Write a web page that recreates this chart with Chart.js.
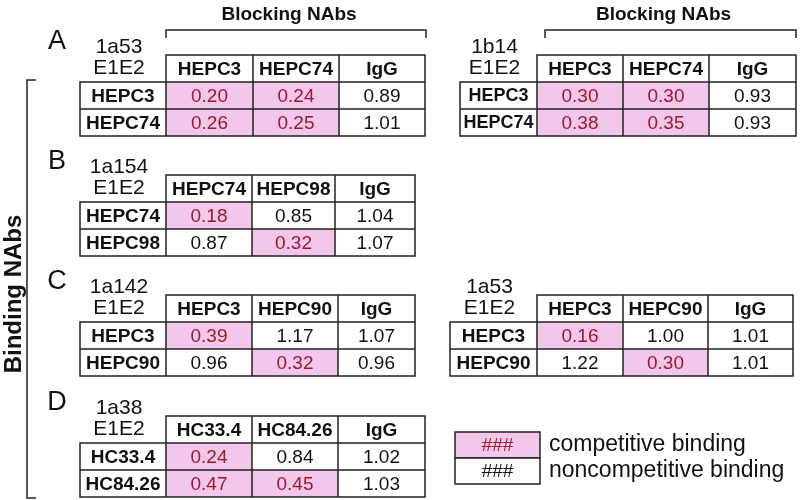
<!DOCTYPE html>
<html>
<head>
<meta charset="utf-8">
<script src="https://cdn.jsdelivr.net/npm/chart.js@4.4.0/dist/chart.umd.min.js"></script>
<style>
  html, body { margin: 0; padding: 0; background: #fff; }
  #wrap { width: 802px; height: 500px; }
</style>
</head>
<body>
<div id="wrap"><canvas id="grafico" width="802" height="500"></canvas></div>
<script>
// dados das tabelas
const colsA = ["HEPC3", "HEPC74", "IgG"];
const rowsA = ["HEPC3", "HEPC74"];
const valsA = [[0.20, 0.24, 0.89], [0.26, 0.25, 1.01]];

const cols1b14 = ["HEPC3", "HEPC74", "IgG"];
const rows1b14 = ["HEPC3", "HEPC74"];
const vals1b14 = [[0.30, 0.30, 0.93], [0.38, 0.35, 0.93]];

const colsB = ["HEPC74", "HEPC98", "IgG"];
const rowsB = ["HEPC74", "HEPC98"];
const valsB = [[0.18, 0.85, 1.04], [0.87, 0.32, 1.07]];

const colsC = ["HEPC3", "HEPC90", "IgG"];
const rowsC = ["HEPC3", "HEPC90"];
const valsC = [[0.39, 1.17, 1.07], [0.96, 0.32, 0.96]];

const colsC2 = ["HEPC3", "HEPC90", "IgG"];
const rowsC2 = ["HEPC3", "HEPC90"];
const valsC2 = [[0.16, 1.00, 1.01], [1.22, 0.30, 1.01]];

const colsD = ["HC33.4", "HC84.26", "IgG"];
const rowsD = ["HC33.4", "HC84.26"];
const valsD = [[0.24, 0.84, 1.02], [0.47, 0.45, 1.03]];

// competitive binding flags (rosa)
const compA = [[1, 1, 0], [1, 1, 0]];
const comp1b14 = [[1, 1, 0], [1, 1, 0]];
const compB = [[1, 0, 0], [0, 1, 0]];
const compC = [[1, 0, 0], [0, 1, 0]];
const compC2 = [[1, 0, 0], [0, 1, 0]];
const compD = [[1, 0, 0], [1, 1, 0]];

const legendLabels = ["competitive binding", "noncompetitive binding"];

// layout das tabelas
const tabelas = [
  { letra: "A", cepa: "1a53", cols: colsA, rows: rowsA, vals: valsA, comp: compA,
    rowLeft: 80, edges: [166, 253, 339, 425], top: 55, rowFont: 19 },
  { letra: "", cepa: "1b14", cols: cols1b14, rows: rows1b14, vals: vals1b14, comp: comp1b14,
    rowLeft: 460, edges: [537, 623, 709, 796], top: 55, rowFont: 18 },
  { letra: "B", cepa: "1a154", cols: colsB, rows: rowsB, vals: valsB, comp: compB,
    rowLeft: 80, edges: [166, 252, 335, 415], top: 175, rowFont: 19 },
  { letra: "C", cepa: "1a142", cols: colsC, rows: rowsC, vals: valsC, comp: compC,
    rowLeft: 80, edges: [166, 252, 338, 415], top: 295, rowFont: 19 },
  { letra: "", cepa: "1a53", cols: colsC2, rows: rowsC2, vals: valsC2, comp: compC2,
    rowLeft: 450, edges: [537, 623, 708, 793], top: 295, rowFont: 19 },
  { letra: "D", cepa: "1a38", cols: colsD, rows: rowsD, vals: valsD, comp: compD,
    rowLeft: 80, edges: [166, 252, 338, 425], top: 416, rowFont: 19 },
];
const ROW_H = 27;
const ROSA = "#f3c6ec";
const VERMELHO = "#9a1a2a";
const LINHA = "#222";
const FONTE = "'Liberation Sans', Arial, sans-serif";

const desenhaTabelas = {
  id: "tabelas",
  afterDraw(chart) {
    const ctx = chart.ctx;
    const sx = chart.scales.x;
    const sy = chart.scales.y;
    const px = (v) => sx.getPixelForValue(v);
    const py = (v) => sy.getPixelForValue(v);

    ctx.save();
    ctx.textAlign = "center";
    ctx.textBaseline = "middle";

    tabelas.forEach((t) => {
      const e = t.edges;
      const labelX = (t.rowLeft + e[0]) / 2 - 4;

      // letra do painel, cepa e E1E2
      if (t.letra) {
        ctx.fillStyle = "#111";
        ctx.font = "27px " + FONTE;
        ctx.fillText(t.letra, px(57), py(t.top - 13));
      }
      ctx.fillStyle = "#111";
      ctx.font = "21px " + FONTE;
      ctx.fillText(t.cepa, px(labelX), py(t.top - 8));
      ctx.fillText("E1E2", px(labelX), py(t.top + ROW_H / 2));

      // fundo das células
      t.vals.forEach((linha, i) => {
        linha.forEach((v, j) => {
          const y0 = t.top + ROW_H * (i + 1);
          ctx.fillStyle = t.comp[i][j] ? ROSA : "#fff";
          ctx.fillRect(px(e[j]), py(y0), px(e[j + 1]) - px(e[j]), py(y0 + ROW_H) - py(y0));
        });
      });

      // linhas da grade
      ctx.strokeStyle = LINHA;
      ctx.lineWidth = 1.5;
      ctx.beginPath();
      // cabeçalho
      ctx.rect(px(e[0]), py(t.top), px(e[3]) - px(e[0]), py(t.top + ROW_H) - py(t.top));
      // corpo
      const bTop = t.top + ROW_H;
      const bBot = t.top + ROW_H * 3;
      ctx.rect(px(t.rowLeft), py(bTop), px(e[3]) - px(t.rowLeft), py(bBot) - py(bTop));
      ctx.moveTo(px(t.rowLeft), py(bTop + ROW_H));
      ctx.lineTo(px(e[3]), py(bTop + ROW_H));
      for (let k = 0; k < 3; k++) {
        ctx.moveTo(px(e[k]), py(t.top));
        ctx.lineTo(px(e[k]), py(bBot));
      }
      ctx.stroke();

      // textos do cabeçalho
      ctx.fillStyle = "#111";
      ctx.font = "bold 19px " + FONTE;
      t.cols.forEach((c, j) => {
        ctx.fillText(c, px((e[j] + e[j + 1]) / 2), py(t.top + ROW_H / 2 + 1));
      });
      // rótulos das linhas
      ctx.font = "bold " + t.rowFont + "px " + FONTE;
      t.rows.forEach((r, i) => {
        ctx.fillText(r, px((t.rowLeft + e[0]) / 2), py(t.top + ROW_H * (i + 1.5) + 1));
      });
      // valores
      ctx.font = "19px " + FONTE;
      t.vals.forEach((linha, i) => {
        linha.forEach((v, j) => {
          ctx.fillStyle = t.comp[i][j] ? VERMELHO : "#111";
          ctx.fillText(v.toFixed(2), px((e[j] + e[j + 1]) / 2), py(t.top + ROW_H * (i + 1.5) + 1));
        });
      });
    });

    // colchetes "Blocking NAbs"
    [[166, 426], [545, 796]].forEach(([a, b]) => {
      ctx.strokeStyle = LINHA;
      ctx.lineWidth = 1.5;
      ctx.beginPath();
      ctx.moveTo(px(a), py(38));
      ctx.lineTo(px(a), py(30));
      ctx.lineTo(px(b), py(30));
      ctx.lineTo(px(b), py(38));
      ctx.stroke();
      ctx.fillStyle = "#111";
      ctx.font = "bold 19px " + FONTE;
      ctx.fillText("Blocking NAbs", px((a + b) / 2 - 7), py(15));
    });

    // colchete "Binding NAbs"
    ctx.beginPath();
    ctx.moveTo(px(36), py(80));
    ctx.lineTo(px(27), py(80));
    ctx.lineTo(px(27), py(498));
    ctx.lineTo(px(36), py(498));
    ctx.stroke();
    ctx.save();
    ctx.translate(px(14), py(294));
    ctx.rotate(-Math.PI / 2);
    ctx.font = "bold 24px " + FONTE;
    ctx.fillText("Binding NAbs", 0, 0);
    ctx.restore();

    // legenda
    const lx0 = 455, lx1 = 540, ly = 432, lh = 26;
    legendLabels.forEach((txt, i) => {
      const y0 = ly + lh * i;
      ctx.fillStyle = i === 0 ? ROSA : "#fff";
      ctx.fillRect(px(lx0), py(y0), px(lx1) - px(lx0), py(y0 + lh) - py(y0));
      ctx.strokeStyle = LINHA;
      ctx.lineWidth = 1.5;
      ctx.strokeRect(px(lx0), py(y0), px(lx1) - px(lx0), py(y0 + lh) - py(y0));
      ctx.font = "19px " + FONTE;
      ctx.fillStyle = i === 0 ? VERMELHO : "#111";
      ctx.fillText("###", px((lx0 + lx1) / 2), py(y0 + lh / 2 + 1));
      ctx.fillStyle = "#111";
      ctx.textAlign = "left";
      ctx.font = "23px " + FONTE;
      ctx.fillText(txt, px(549), py(y0 + lh / 2));
      ctx.textAlign = "center";
    });

    ctx.restore();
  },
};

new Chart(document.getElementById("grafico"), {
  type: "scatter",
  data: { datasets: [{ data: [], pointRadius: 0 }] },
  options: {
    responsive: false,
    animation: false,
    devicePixelRatio: 1,
    layout: { padding: 0 },
    plugins: { legend: { display: false }, tooltip: { enabled: false } },
    scales: {
      x: { type: "linear", min: 0, max: 802, display: false },
      y: { type: "linear", min: 0, max: 500, reverse: true, display: false },
    },
  },
  plugins: [desenhaTabelas],
});
</script>
</body>
</html>
